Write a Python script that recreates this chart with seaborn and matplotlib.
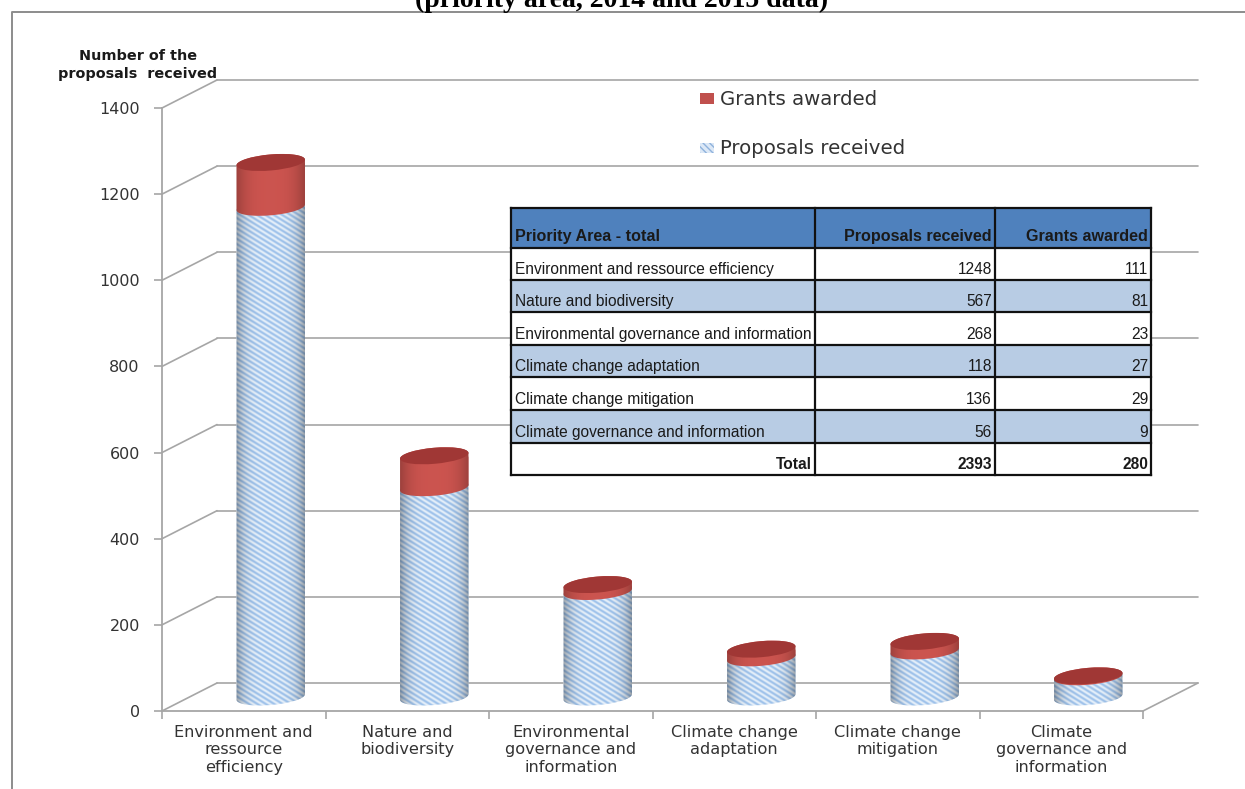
import numpy as np
import pandas as pd
import matplotlib
matplotlib.use("Agg")
import matplotlib.pyplot as plt
import matplotlib.transforms as mtransforms
from matplotlib.patches import Ellipse, Rectangle
from matplotlib.path import Path
import seaborn as sns

categories = ["Environment and\nressource\nefficiency", "Nature and\nbiodiversity",
              "Environmental\ngovernance and\ninformation", "Climate change\nadaptation",
              "Climate change\nmitigation", "Climate\ngovernance and\ninformation"]
table_names = ["Environment and ressource efficiency", "Nature and biodiversity",
               "Environmental governance and information", "Climate change adaptation",
               "Climate change mitigation", "Climate governance and information"]
proposals = [1248, 567, 268, 118, 136, 56]
grants = [111, 81, 23, 27, 29, 9]
total_proposals = 2393
total_grants = 280
y_ticks = [0, 200, 400, 600, 800, 1000, 1200, 1400]

W, H = 1245, 789
sns.set_theme(style="white")
plt.rcParams["font.family"] = ["DejaVu Sans"]
GRID = "#a6a6a6"
TEXT = "#333333"


def rect(x0, y_top, x1, y_bottom):
    # pixel box (y from the top) to figure fractions
    return [x0 / W, 1 - y_bottom / H, (x1 - x0) / W, (y_bottom - y_top) / H]


fig = plt.figure(figsize=(W / 100, H / 100), dpi=100, facecolor="white")

# front plane of the chart: axis, ticks and labels
ax = fig.add_axes(rect(162, 108, 1143, 711))
ax.set_xlim(-0.5, 5.5)
ax.set_ylim(0, 1400)
ax.patch.set_alpha(0)
for side in ["top", "right"]:
    ax.spines[side].set_visible(False)
for side in ["left", "bottom"]:
    ax.spines[side].set_color(GRID)
    ax.spines[side].set_linewidth(1.3)
ax.set_yticks(y_ticks)
ax.set_yticklabels([str(v) for v in y_ticks], fontsize=11.5, color=TEXT)
ax.set_xticks(np.arange(-0.5, 6, 1))
ax.set_xticklabels([])
ax.set_xticks(np.arange(6), labels=categories, minor=True, fontsize=11.6, color=TEXT, linespacing=1.2)
ax.tick_params(axis="both", which="major", length=6, width=1.2, color=GRID, left=True, bottom=True)
ax.tick_params(axis="y", pad=10)
ax.tick_params(axis="x", which="minor", length=0, pad=10, bottom=False)

# back wall and floor, same scales pushed back by the depth offset
DX, DY = 55, 28
back = mtransforms.offset_copy(ax.transData, fig, x=DX, y=DY, units="dots")
for v in y_ticks:
    ax.plot([-0.5, 5.5], [v, v], transform=back, color=GRID, lw=1.2, clip_on=False, zorder=1)
    p0 = ax.transData.transform((-0.5, v))
    ax.plot([p0[0], p0[0] + DX], [p0[1], p0[1] + DY], transform=None, color=GRID, lw=1.2, clip_on=False, zorder=1)
p1 = ax.transData.transform((5.5, 0))
ax.plot([p1[0], p1[0] + DX], [p1[1], p1[1] + DY], transform=None, color=GRID, lw=1.2, clip_on=False, zorder=1)

# bars sit mid depth; axes runs below zero so the base ellipse is not cut
BAR_DX, ZERO_Y, PX_PER_UNIT = 27, 700, 603 / 1400
low = -40
ax_bar = fig.add_axes(rect(162 + BAR_DX, ZERO_Y - 1400 * PX_PER_UNIT, 1143 + BAR_DX, ZERO_Y - low * PX_PER_UNIT))
df = pd.DataFrame({"area": [str(i) for i in range(6)],
                   "proposals": proposals,
                   "lower": np.array(proposals) - np.array(grants)})
sns.barplot(data=df, x="area", y="proposals", color="#c0504d", width=0.42, saturation=1, ax=ax_bar)
n_red = len(ax_bar.patches)
sns.barplot(data=df, x="area", y="lower", color="#a9c6e8", width=0.42, saturation=1, ax=ax_bar)
ax_bar.set_xlim(-0.5, 5.5)
ax_bar.set_ylim(low, 1400)
ax_bar.axis("off")
fig.canvas.draw()

ELL_H, ANGLE = 16, np.deg2rad(5)


def arc(cx, cy, a, b, t0, t1):
    t = np.linspace(t0, t1, 60)
    x = cx + a * np.cos(t) * np.cos(ANGLE) - b * np.sin(t) * np.sin(ANGLE)
    y = cy + a * np.cos(t) * np.sin(ANGLE) + b * np.sin(t) * np.cos(ANGLE)
    return np.column_stack([x, y])


def body_image(x0, x1, y0, y1, kind):
    # cylinder texture in screen pixels, y0 < y1 in display coords
    w, h = int(x1 - x0) + 1, int(y1 - y0) + 1
    xx, yy = np.meshgrid(np.arange(w), np.arange(h))
    u = (xx + 0.5) / w * 2 - 1
    if kind == "blue":
        shade = 1 - 0.34 * np.abs(u) ** 4
        s = 0.5 + 0.5 * np.sin(2 * np.pi * (yy + 0.62 * xx) / 5.2)
        dark, light = np.array([0.62, 0.76, 0.92]), np.array([0.90, 0.94, 0.98])
        img = dark[None, None, :] * (1 - s[..., None]) + light[None, None, :] * s[..., None]
        img = img * shade[..., None]
    else:
        shade = 1 - 0.24 * np.abs(u) ** 3
        base = np.array([0.80, 0.33, 0.31])
        img = base[None, None, :] * shade[..., None]
    return img


inv = ax_bar.transData.inverted()
red_bars = ax_bar.patches[:n_red]
blue_bars = ax_bar.patches[n_red:]
b = ELL_H / 2
for red, blue in zip(red_bars, blue_bars):
    (x0, y_base), (x1, y_mid) = ax_bar.transData.transform(
        [(blue.get_x(), 0), (blue.get_x() + blue.get_width(), blue.get_height())])
    y_top = ax_bar.transData.transform((0, red.get_height()))[1]
    cx, a = (x0 + x1) / 2, (x1 - x0) / 2
    foot = y_base + 3
    seam = y_mid + 3
    for bar, lo, hi, kind in [(blue, foot, seam, "blue"), (red, seam, y_top, "red")]:
        outline = np.vstack([arc(cx, lo, a, b, np.pi, 2 * np.pi), arc(cx, hi, a, b, 0, np.pi)])
        clip = Path(np.vstack([outline, outline[:1]]), closed=True)
        bar.set_clip_path(clip, mtransforms.IdentityTransform())
        ya, yb = lo - b - 6, hi + b + 6
        (dx0, dy0), (dx1, dy1) = inv.transform([(x0, ya), (x1, yb)])
        im = ax_bar.imshow(body_image(x0, x1, ya, yb, kind), extent=(dx0, dx1, dy0, dy1), origin="lower",
                           aspect="auto", interpolation="bilinear", zorder=3 if kind == "blue" else 4)
        im.set_clip_path(clip, mtransforms.IdentityTransform())
    ax_bar.add_patch(Ellipse((cx, y_top), 2 * a, ELL_H, angle=5, transform=None,
                             facecolor="#a03735", edgecolor="none", zorder=5))
ax_bar.set_xlim(-0.5, 5.5)
ax_bar.set_ylim(low, 1400)

# everything laid out in picture pixels: frame, titles, legend, table
ov = fig.add_axes([0, 0, 1, 1], zorder=10)
ov.set_xlim(0, W)
ov.set_ylim(H, 0)
ov.axis("off")
ov.plot([12, 12, W], [H, 11.5, 11.5], color="#8c8c8c", lw=1.4, clip_on=False)
ov.text(622, 7, "(priority area, 2014 and 2015 data)", family="Liberation Serif", weight="bold",
        fontsize=20, ha="center", va="baseline", color="black", clip_on=False)
ov.text(138, 65, "Number of the\nproposals  received", weight="bold", fontsize=10.4, ha="center", va="center",
        color="#1a1a1a", linespacing=1.35)

ov.add_patch(Rectangle((700, 93), 14, 11, facecolor="#c0504d", edgecolor="none"))
ov.text(720, 99, "Grants awarded", fontsize=14.2, color=TEXT, va="center")
ov.add_patch(Rectangle((700, 143), 14, 10, facecolor="#dce8f6", edgecolor="#8fb2dc", hatch="\\\\\\\\\\", lw=0))
ov.text(720, 148, "Proposals received", fontsize=14.2, color=TEXT, va="center")

col_x = [511, 815, 995, 1151]
row_y = [208, 248, 280, 312, 345, 377, 410, 443, 475]
rows = [[name, str(p), str(g)] for name, p, g in zip(table_names, proposals, grants)]
rows.append(["Total", str(total_proposals), str(total_grants)])
ov.add_patch(Rectangle((col_x[0], row_y[0]), col_x[-1] - col_x[0], row_y[-1] - row_y[0], facecolor="white", edgecolor="none"))
ov.add_patch(Rectangle((col_x[0], row_y[0]), col_x[-1] - col_x[0], row_y[1] - row_y[0], facecolor="#4f81bd", edgecolor="none"))
for i in range(1, 7, 2):
    ov.add_patch(Rectangle((col_x[0], row_y[i + 1]), col_x[-1] - col_x[0], row_y[i + 2] - row_y[i + 1],
                           facecolor="#b8cce4", edgecolor="none"))
for y in row_y:
    ov.plot([col_x[0], col_x[-1]], [y, y], color="#111111", lw=1.6, solid_capstyle="projecting")
for x in col_x:
    ov.plot([x, x], [row_y[0], row_y[-1]], color="#111111", lw=1.6, solid_capstyle="projecting")
tbl = dict(family="Liberation Sans", color="#1a1a1a", va="baseline")
ov.text(515, 241, "Priority Area - total", weight="bold", fontsize=11.6, **tbl)
ov.text(992, 241, "Proposals received", weight="bold", ha="right", fontsize=11.6, **tbl)
ov.text(1148, 241, "Grants awarded", weight="bold", ha="right", fontsize=11.6, **tbl)
for i, row in enumerate(rows):
    y = row_y[i + 2] - 6
    is_total = row[0] == "Total"
    if is_total:
        ov.text(812, y, row[0], weight="bold", ha="right", fontsize=11.2, **tbl)
    else:
        ov.text(515, y, row[0], fontsize=11.2, **tbl)
    ov.text(992, y, row[1], ha="right", weight="bold" if is_total else "normal", fontsize=11.2, **tbl)
    ov.text(1148, y, row[2], ha="right", weight="bold" if is_total else "normal", fontsize=11.2, **tbl)

fig.savefig("out.png", dpi=100)
